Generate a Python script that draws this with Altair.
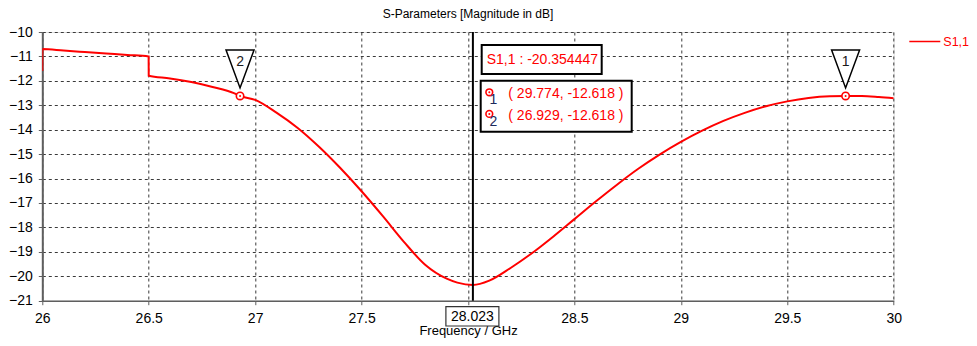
import altair as alt
import pandas as pd

# ---------------- data ----------------
freq = [26.0, 26.0005, 26.1, 26.2, 26.3, 26.4, 26.4995, 26.5, 26.6, 26.7, 26.8, 26.9, 26.929,
        27.0, 27.1, 27.2, 27.3, 27.4, 27.5, 27.6, 27.7, 27.8, 27.9, 27.95, 28.023,
        28.1, 28.2, 28.3, 28.4, 28.5, 28.6, 28.7, 28.8, 28.9, 29.0, 29.1, 29.2, 29.3,
        29.4, 29.5, 29.6, 29.7, 29.774, 29.85, 29.93, 30.0]
s11_db = [-11.6, -10.70, -10.76, -10.82, -10.88, -10.94, -11.0, -11.79, -11.90, -12.05, -12.25, -12.50, -12.618,
          -12.78, -13.30, -13.93, -14.70, -15.57, -16.52, -17.54, -18.60, -19.54, -20.10, -20.26, -20.354,
          -20.18, -19.66, -19.06, -18.38, -17.66, -16.94, -16.25, -15.60, -15.02, -14.50, -14.04, -13.64, -13.31,
          -13.04, -12.84, -12.70, -12.63, -12.618, -12.62, -12.66, -12.71]
series_name = "S1,1"
marker_ids = ["1", "2"]
marker_freq = [29.774, 26.929]
marker_db = [-12.618, -12.618]
min_freq = 28.023
min_db = -20.354447
x_ticks = [26, 26.5, 27, 27.5, 28, 28.5, 29, 29.5, 30]
y_ticks = [-21, -20, -19, -18, -17, -16, -15, -14, -13, -12, -11, -10]

# ---------------- layout / style ----------------
W = 851.4
H = 268.7
FONT = "Liberation Sans"
RED = "#ff0000"
GRID = "#3a3a3a"
FRAME = "#5f5f5f"

curve_df = pd.DataFrame({"f": freq, "db": s11_db, "series": series_name})
mk_df = pd.DataFrame({"f": marker_freq, "db": marker_db, "id": marker_ids})
ann_df = pd.DataFrame({
    "ax": [min_freq] * len(marker_ids),
    "row": list(range(len(marker_ids))),
    "id": marker_ids,
    "label": [f"( {f:.3f}, {d:.3f} )" for f, d in zip(marker_freq, marker_db)],
})
min_df = pd.DataFrame({"ax": [min_freq], "label": [f"{series_name} : {min_db:.6f}"],
                       "flabel": [f"{min_freq:.3f}"]})

xs = alt.Scale(domain=[26, 30], nice=False, zero=False)
ys = alt.Scale(domain=[-21, -10], nice=False, zero=False)

x_axis = alt.Axis(values=x_ticks, title="Frequency / GHz",
                  labelExpr="datum.value == 28 ? '' : format(datum.value, '~g')",
                  grid=True, gridDash=[3, 3], gridColor=GRID, gridWidth=1,
                  domainColor=FRAME, domainWidth=1.5, tickColor=FRAME, tickSize=4,
                  labelFont=FONT, labelFontSize=14, labelColor="#000", labelPadding=7,
                  labelOverlap=False, labelFlush=False,
                  titleFont=FONT, titleFontSize=13, titleFontWeight="normal", titleColor="#000",
                  titleBaseline="alphabetic", titleY=34)
y_axis = alt.Axis(values=y_ticks, title=None, format="d", labelOverlap=False,
                  grid=True, gridDash=[3, 3], gridColor=GRID, gridWidth=1,
                  domainColor=FRAME, domainWidth=2, tickColor=FRAME, tickSize=4,
                  labelFont=FONT, labelFontSize=14, labelColor="#000", labelPadding=6)


def X(field):
    return alt.X(field, scale=xs, axis=x_axis)


def Y(field):
    return alt.Y(field, scale=ys, axis=y_axis)


base_line = alt.Chart(curve_df).mark_line(strokeWidth=2, clip=True, interpolate="monotone").encode(
    x=X("f:Q"),
    y=Y("db:Q"),
    color=alt.Color("series:N", scale=alt.Scale(domain=[series_name], range=[RED]),
                    legend=alt.Legend(title=None, orient="none", legendX=866, legendY=-7,
                                      symbolType="stroke", symbolSize=961, symbolStrokeWidth=1.5,
                                      labelColor=RED, labelFont=FONT, labelFontSize=12.5,
                                      labelOffset=2, padding=0)),
)

vline = alt.Chart(min_df).mark_rule(color="black", strokeWidth=2).encode(
    x=X("ax:Q"), y=alt.value(0), y2=alt.value(H))

tri_shape = "M-0.737,-1 L0.737,-1 L0,1 Z"
tri = alt.Chart(mk_df).mark_point(shape=tri_shape, size=1444, filled=True, fill="white",
                                  stroke="black", strokeWidth=1.5, yOffset=-27, opacity=1).encode(
    x=X("f:Q"), y=Y("db:Q"))
tri_txt = alt.Chart(mk_df).mark_text(dy=-34, font=FONT, fontSize=14, color="#1a1a1a").encode(
    x=X("f:Q"), y=Y("db:Q"), text="id:N")
ring = alt.Chart(mk_df).mark_point(shape="circle", size=55, filled=True, fill="white",
                                   stroke=RED, strokeWidth=1.6, opacity=1).encode(
    x=X("f:Q"), y=Y("db:Q"))
dot = alt.Chart(mk_df).mark_point(shape="circle", size=4, filled=True, color=RED, opacity=1).encode(
    x=X("f:Q"), y=Y("db:Q"))

# annotation box with minimum value
box1 = alt.Chart(min_df).mark_rect(fill="white", stroke="black", strokeWidth=2,
                                   xOffset=8.8, x2Offset=128.8).encode(
    x=X("ax:Q"), x2="ax:Q", y=alt.value(13), y2=alt.value(42))
box1_txt = alt.Chart(min_df).mark_text(align="left", baseline="middle", dx=13.8, font=FONT,
                                       fontSize=14, color=RED).encode(
    x=X("ax:Q"), y=alt.value(27.5), text="label:N")

# marker table box
box2 = alt.Chart(min_df).mark_rect(fill="white", stroke="black", strokeWidth=2,
                                   xOffset=7.8, x2Offset=158.8).encode(
    x=X("ax:Q"), x2="ax:Q", y=alt.value(48.7), y2=alt.value(99.7))

rows = []
for i in range(len(marker_ids)):
    yc = 62.3 + 21.6 * i
    src = alt.Chart(ann_df).transform_filter(alt.datum.row == i)
    rows.append(src.mark_point(shape="circle", size=45, filled=True, fill="white", stroke=RED,
                               strokeWidth=1.6, opacity=1, xOffset=16.4, yOffset=-2).encode(
        x=X("ax:Q"), y=alt.value(yc)))
    rows.append(src.mark_point(shape="circle", size=4, filled=True, color=RED, opacity=1,
                               xOffset=16.4, yOffset=-2).encode(
        x=X("ax:Q"), y=alt.value(yc)))
    rows.append(src.mark_text(align="center", baseline="middle", dx=20.4, dy=6, font=FONT,
                              fontSize=14, color="#1c2a5c").encode(
        x=X("ax:Q"), y=alt.value(yc), text="id:N"))
    rows.append(src.mark_text(align="left", baseline="middle", dx=35.4, font=FONT,
                              fontSize=14, color=RED).encode(
        x=X("ax:Q"), y=alt.value(yc), text="label:N"))

# frequency marker label below axis
fbox = alt.Chart(min_df).mark_rect(fill="white", stroke="#333", strokeWidth=1.2,
                                   xOffset=-27, x2Offset=26).encode(
    x=X("ax:Q"), x2="ax:Q", y=alt.value(H + 6), y2=alt.value(H + 25.3))
ftxt = alt.Chart(min_df).mark_text(align="center", baseline="middle", font=FONT, fontSize=14,
                                   color="#000", dx=-0.5, dy=0.5).encode(
    x=X("ax:Q"), y=alt.value(H + 15.7), text="flabel:N")

chart = alt.layer(base_line, vline, tri, tri_txt, ring, dot, box1, box1_txt, box2, *rows,
                  fbox, ftxt).properties(
    width=W, height=H,
    title=alt.TitleParams("S-Parameters [Magnitude in dB]", font=FONT, fontSize=12,
                          fontWeight="normal", color="#000", anchor="middle", offset=4),
    autosize="none",
    padding={"left": 34.3, "top": 24, "right": 75.3, "bottom": 37.3},
).configure_view(stroke=FRAME, strokeWidth=1.5).configure(background="white")

chart.save("out.html", embed_options={"renderer": "svg", "actions": False})
